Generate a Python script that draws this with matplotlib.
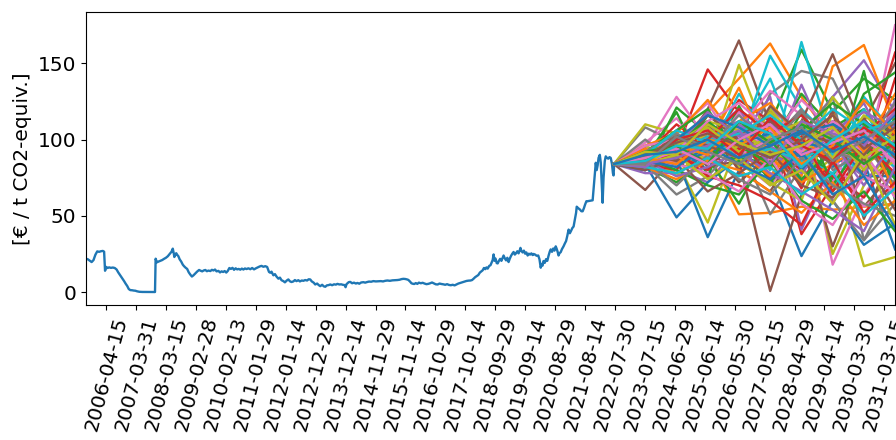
import matplotlib.pyplot as plt
import numpy as np
import pandas as pd

# Historischer CO2-Preis (Jahr als Dezimalzahl, Preis in EUR/t)
hist_years = [
    2005.64, 2005.70, 2005.76, 2005.82, 2005.88, 2005.94, 2006.00, 2006.06, 2006.12, 2006.18,
    2006.22, 2006.25, 2006.29, 2006.33, 2006.38, 2006.44, 2006.50, 2006.56, 2006.62, 2006.67,
    2006.72, 2006.77, 2006.82, 2006.86, 2006.91, 2006.96, 2007.01, 2007.06, 2007.12, 2007.17,
    2007.22, 2007.28, 2007.35, 2007.45, 2007.60, 2007.75, 2007.85, 2007.87, 2007.91, 2007.96,
    2008.02, 2008.08, 2008.14, 2008.20, 2008.26, 2008.32, 2008.38, 2008.42, 2008.45, 2008.47,
    2008.50, 2008.53, 2008.56, 2008.60, 2008.64, 2008.69, 2008.74, 2008.78, 2008.83, 2008.88,
    2008.93, 2008.98, 2009.03, 2009.08, 2009.14, 2009.20, 2009.26, 2009.31, 2009.36, 2009.41,
    2009.46, 2009.51, 2009.56, 2009.62, 2009.67, 2009.72, 2009.77, 2009.82, 2009.88, 2009.93,
    2009.98, 2010.03, 2010.08, 2010.13, 2010.18, 2010.23, 2010.28, 2010.33, 2010.38, 2010.43,
    2010.48, 2010.53, 2010.58, 2010.63, 2010.68, 2010.73, 2010.78, 2010.84, 2010.90, 2010.96,
    2011.02, 2011.08, 2011.14, 2011.20, 2011.26, 2011.32, 2011.38, 2011.44, 2011.50, 2011.54,
    2011.58, 2011.64, 2011.69, 2011.74, 2011.80, 2011.85, 2011.90, 2011.96, 2012.01, 2012.07,
    2012.12, 2012.17, 2012.22, 2012.28, 2012.33, 2012.38, 2012.44, 2012.49, 2012.55, 2012.60,
    2012.66, 2012.72, 2012.77, 2012.82, 2012.87, 2012.93, 2012.98, 2013.04, 2013.09, 2013.14,
    2013.20, 2013.25, 2013.30, 2013.35, 2013.41, 2013.46, 2013.52, 2013.58, 2013.64, 2013.69,
    2013.75, 2013.81, 2013.86, 2013.92, 2013.95, 2013.98, 2014.05, 2014.10, 2014.16, 2014.22,
    2014.28, 2014.33, 2014.39, 2014.45, 2014.52, 2014.58, 2014.64, 2014.70, 2014.77, 2014.84,
    2014.92, 2015.00, 2015.08, 2015.15, 2015.22, 2015.29, 2015.37, 2015.45, 2015.53, 2015.61,
    2015.68, 2015.74, 2015.80, 2015.86, 2015.92, 2015.96, 2016.02, 2016.06, 2016.10, 2016.15,
    2016.20, 2016.25, 2016.30, 2016.36, 2016.42, 2016.48, 2016.54, 2016.60, 2016.66, 2016.72,
    2016.78, 2016.84, 2016.90, 2016.96, 2017.02, 2017.08, 2017.14, 2017.20, 2017.26, 2017.32,
    2017.38, 2017.44, 2017.50, 2017.56, 2017.62, 2017.69, 2017.75, 2017.82, 2017.88, 2017.95,
    2018.00, 2018.05, 2018.10, 2018.15, 2018.20, 2018.25, 2018.30, 2018.34, 2018.38, 2018.42,
    2018.46, 2018.50, 2018.55, 2018.59, 2018.63, 2018.66, 2018.69, 2018.72, 2018.75, 2018.79,
    2018.82, 2018.86, 2018.90, 2018.94, 2018.98, 2019.01, 2019.05, 2019.09, 2019.13, 2019.17,
    2019.21, 2019.25, 2019.29, 2019.33, 2019.37, 2019.41, 2019.45, 2019.49, 2019.53, 2019.55,
    2019.58, 2019.62, 2019.66, 2019.70, 2019.74, 2019.78, 2019.82, 2019.86, 2019.90, 2019.94,
    2019.97, 2020.02, 2020.07, 2020.12, 2020.16, 2020.20, 2020.23, 2020.26, 2020.29, 2020.33,
    2020.37, 2020.41, 2020.45, 2020.49, 2020.52, 2020.56, 2020.60, 2020.64, 2020.68, 2020.71,
    2020.74, 2020.77, 2020.80, 2020.84, 2020.88, 2020.93, 2020.97, 2021.01, 2021.05, 2021.09,
    2021.13, 2021.17, 2021.21, 2021.25, 2021.29, 2021.33, 2021.35, 2021.40, 2021.45, 2021.50,
    2021.54, 2021.58, 2021.62, 2021.66, 2021.70, 2021.76, 2021.82, 2021.86, 2021.90, 2021.94,
    2021.96, 2021.99, 2022.02, 2022.05, 2022.09, 2022.12, 2022.15, 2022.18, 2022.21, 2022.25,
    2022.28, 2022.32, 2022.36, 2022.40, 2022.44, 2022.48, 2022.51, 2022.53, 2022.55,
]
hist_prices = [
    21.9, 21.5, 20.6, 19.7, 21.0, 24.5, 26.7, 26.4, 26.8, 27.0,
    26.5, 14.0, 16.5, 15.8, 16.2, 15.9, 16.1, 15.8, 14.8, 13.0,
    11.5, 10.0, 8.5, 7.2, 5.5, 4.0, 2.0, 1.3, 1.2, 1.0,
    0.9, 0.5, 0.2, 0.1, 0.08, 0.05, 0.05, 21.9, 19.5, 20.0,
    20.5, 21.0, 21.8, 22.5, 23.5, 25.0, 26.5, 28.5, 25.5, 23.0,
    24.5, 25.5, 24.5, 23.5, 21.5, 20.0, 18.0, 17.0, 16.0, 15.2,
    13.0, 11.5, 10.2, 11.0, 12.3, 13.5, 14.5, 14.0, 13.6, 14.2,
    14.5, 13.7, 14.1, 13.8, 14.6, 14.2, 14.8, 13.6, 13.9, 12.9,
    13.6, 13.2, 13.8, 12.8, 13.9, 15.8, 15.2, 15.9, 14.6, 15.6,
    14.9, 15.2, 14.7, 15.4, 14.8, 15.5, 15.1, 15.6, 15.0, 15.8,
    14.9, 15.6, 16.2, 16.8, 17.2, 16.6, 17.0, 16.5, 13.2, 12.7,
    13.4, 11.0, 11.8, 10.2, 8.8, 9.5, 7.8, 7.2, 6.4, 7.6,
    8.3, 7.1, 6.6, 7.0, 7.9, 7.2, 7.8, 7.0, 7.6, 7.4,
    7.9, 7.6, 8.4, 8.3, 7.0, 6.2, 5.0, 5.6, 4.6, 3.9,
    4.8, 3.8, 3.5, 4.4, 4.6, 5.0, 4.5, 5.1, 4.9, 5.4,
    5.0, 5.1, 4.8, 4.6, 3.2, 5.2, 6.5, 6.7, 5.8, 6.2,
    5.6, 6.0, 5.5, 6.3, 6.5, 6.2, 6.6, 6.9, 6.8, 7.2,
    7.0, 7.1, 7.2, 7.0, 7.4, 7.6, 7.4, 7.7, 7.8, 7.9,
    8.1, 8.5, 8.7, 8.6, 8.3, 8.0, 6.8, 5.8, 5.5, 5.3,
    5.9, 5.4, 6.2, 5.8, 6.1, 5.6, 5.2, 5.4, 5.8, 6.3,
    5.7, 5.1, 5.0, 5.6, 5.3, 5.1, 4.8, 5.2, 4.7, 4.5,
    4.8, 4.4, 5.0, 5.6, 6.0, 6.5, 6.8, 7.3, 7.5, 7.6,
    7.9, 8.8, 9.8, 10.5, 11.2, 12.8, 13.6, 14.3, 15.8, 15.0,
    16.2, 15.4, 17.2, 17.6, 19.5, 21.0, 24.7, 20.5, 22.0, 19.0,
    18.8, 20.5, 21.8, 20.5, 22.6, 24.0, 22.1, 20.8, 22.5, 19.7,
    22.0, 23.8, 25.2, 26.3, 24.6, 25.5, 26.8, 25.4, 27.5, 29.0,
    27.0, 26.0, 27.2, 25.2, 26.0, 24.0, 25.2, 24.6, 25.4, 24.3,
    25.0, 24.6, 23.8, 24.0, 21.5, 16.0, 18.5, 17.4, 20.4, 19.2,
    21.6, 20.5, 23.8, 26.6, 28.0, 26.4, 28.6, 27.2, 30.0, 28.4,
    26.5, 24.0, 25.5, 26.2, 28.2, 30.0, 31.8, 33.5, 37.0, 41.0,
    38.6, 40.2, 42.0, 43.0, 47.5, 52.0, 56.0, 55.0, 54.2, 53.0,
    53.0, 55.0, 57.5, 59.6, 59.6, 59.8, 60.0, 60.2, 70.0, 80.0,
    84.8, 80.0, 83.0, 88.0, 90.0, 85.0, 72.0, 58.6, 75.0, 86.0,
    89.0, 88.0, 87.5, 88.5, 88.0, 84.0, 78.0, 76.5, 84.0,
]

# Szenarien: jaehrliche Stuetzstellen ab Juli 2022
scenario_dates = [
    "2022-07-19", "2023-07-19", "2024-07-19", "2025-07-19", "2026-07-19",
    "2027-07-19", "2028-07-19", "2029-07-19", "2030-07-19", "2031-07-19",
]
scenario_start = 84.0
scenario_paths = [
    [92, 97, 118, 140, 163, 128, 100, 84, 95],
    [80, 121, 104, 92, 110, 159, 118, 140, 126],
    [88, 93, 146, 118, 95, 80, 66, 90, 157],
    [86, 80, 72, 96, 120, 104, 128, 152, 118],
    [67, 90, 120, 165, 110, 92, 72, 56, 80],
    [94, 128, 100, 86, 70, 96, 60, 78, 175],
    [108, 98, 110, 84, 130, 145, 140, 98, 70],
    [110, 104, 86, 149, 96, 72, 88, 17, 23],
    [90, 84, 110, 96, 155, 120, 100, 128, 104],
    [84, 49, 72, 88, 76, 23.6, 60, 31, 45],
    [86, 78, 92, 51, 52, 56, 54, 56, 58],
    [82, 72, 88, 58, 96, 130, 108, 120, 88],
    [90, 110, 95, 126, 112, 38, 70, 100, 84],
    [78, 78, 88, 100, 128, 41, 86, 110, 96],
    [88, 104, 82, 86, 0.7, 64, 96, 112, 150],
    [98, 114, 90, 110, 96, 120, 18, 64, 92],
    [84, 64, 76, 98, 51, 82, 60, 34, 58],
    [96, 86, 45.6, 100, 80, 110, 25, 70, 96],
    [86, 92, 100, 118, 80, 164, 96, 76, 120],
    [82, 88, 36, 80, 110, 72, 94, 86, 28],
    [90, 100, 84, 108, 90, 76, 148, 162, 110],
    [88, 118, 76, 122, 88, 100, 74, 145, 60],
    [80, 96, 108, 80, 102, 68, 120, 74, 140],
    [84, 90, 104, 112, 84, 136, 90, 76, 126],
    [94, 82, 96, 72, 90, 112, 156, 104, 66],
    [88, 106, 124, 92, 104, 86, 72, 112, 80],
    [100, 84, 92, 110, 76, 102, 128, 34, 74],
    [92, 76, 98, 82, 120, 96, 110, 88, 64],
    [80, 100, 86, 104, 140, 88, 78, 96, 82],
    [86, 94, 80, 112, 96, 108, 82, 100, 76],
    [96, 104, 126, 98, 82, 92, 110, 86, 100],
    [84, 86, 116, 104, 72, 94, 86, 130, 144],
    [92, 98, 86, 96, 118, 88, 76, 62, 92],
    [80, 88, 104, 120, 92, 78, 100, 94, 112],
    [86, 94, 110, 80, 66, 98, 30, 82, 104],
    [90, 82, 94, 108, 132, 116, 90, 56, 70],
    [86, 96, 100, 86, 104, 84, 96, 108, 88],
    [88, 92, 104, 84, 72, 60, 118, 74, 86],
    [84, 98, 90, 130, 100, 92, 66, 110, 94],
    [92, 86, 98, 92, 114, 80, 102, 76, 76],
    [84, 86, 96, 134, 88, 72, 84, 96, 130],
    [92, 106, 120, 90, 82, 118, 70, 100, 74],
    [86, 90, 80, 104, 74, 96, 112, 84, 106],
    [90, 96, 88, 76, 108, 90, 102, 124, 84],
    [84, 94, 116, 100, 94, 86, 118, 48, 96],
    [96, 100, 88, 118, 84, 108, 96, 82, 122],
    [82, 90, 102, 94, 98, 120, 80, 92, 102],
    [86, 98, 112, 106, 92, 84, 128, 102, 90],
    [88, 84, 94, 104, 86, 110, 90, 120, 84],
    [80, 92, 84, 98, 104, 88, 112, 90, 110],
    [94, 88, 100, 92, 76, 100, 86, 108, 66],
    [86, 102, 94, 86, 100, 74, 94, 88, 114],
    [84, 80, 112, 94, 86, 102, 66, 98, 78],
    [88, 92, 98, 110, 96, 82, 98, 70, 100],
    [90, 86, 92, 104, 112, 96, 84, 114, 88],
    [86, 94, 106, 90, 100, 126, 106, 92, 62],
    [84, 88, 96, 100, 90, 104, 92, 86, 96],
    [90, 100, 86, 96, 118, 92, 104, 80, 108],
    [86, 90, 102, 88, 94, 86, 100, 104, 90],
    [88, 84, 92, 100, 88, 98, 94, 112, 100],
    [82, 74, 86, 80, 66, 52, 72, 44, 60],
    [88, 80, 70, 64, 86, 60, 48, 66, 40],
    [84, 92, 76, 70, 60, 44, 86, 52, 72],
    [86, 76, 82, 92, 78, 66, 54, 40, 82],
    [80, 88, 66, 78, 92, 70, 62, 88, 54],
    [90, 84, 78, 66, 88, 58, 44, 76, 66],
    [86, 70, 90, 74, 64, 88, 70, 58, 50],
    [84, 90, 74, 88, 70, 80, 58, 92, 44],
    [82, 78, 88, 76, 82, 64, 78, 50, 68],
    [86, 82, 96, 84, 74, 92, 64, 76, 42],
    [88, 96, 90, 112, 124, 100, 116, 92, 118],
    [84, 100, 112, 96, 84, 106, 124, 110, 96],
    [90, 94, 100, 120, 104, 116, 94, 104, 120],
    [82, 96, 118, 102, 110, 94, 106, 118, 108],
    [88, 102, 96, 88, 122, 104, 98, 90, 112],
    [86, 92, 112, 124, 106, 92, 112, 100, 86],
    [92, 104, 94, 116, 96, 118, 102, 96, 124],
    [84, 96, 108, 92, 102, 112, 88, 116, 100],
    [90, 106, 98, 104, 116, 100, 120, 106, 112],
    [86, 100, 116, 108, 96, 104, 110, 98, 116],
    [88, 84, 100, 96, 108, 84, 96, 126, 104],
    [92, 96, 84, 112, 98, 110, 100, 84, 98],
    [86, 100, 106, 90, 114, 96, 86, 108, 94],
    [84, 88, 96, 106, 84, 112, 104, 96, 118],
    [90, 98, 104, 96, 88, 100, 116, 94, 108],
    [88, 94, 84, 100, 110, 90, 98, 106, 84],
    [84, 102, 92, 84, 100, 108, 86, 100, 112],
    [92, 90, 110, 98, 90, 96, 108, 88, 102],
    [86, 96, 94, 112, 104, 82, 100, 112, 96],
    [90, 92, 100, 88, 96, 106, 92, 102, 90],
]


def year_to_date(y):
    # Dezimaljahr -> Datum
    start = pd.Timestamp(year=int(y), month=1, day=1)
    return start + pd.Timedelta(days=(y - int(y)) * 365.25)


hist_dates = pd.DatetimeIndex([year_to_date(y) for y in hist_years])
scen_dates = pd.to_datetime(scenario_dates)

fig = plt.figure(figsize=(8.96, 4.4), dpi=100)
ax = fig.add_axes([0.096, 0.306, 0.903, 0.667])

ax.plot(hist_dates, hist_prices, linewidth=1.7)
for path in scenario_paths:
    ax.plot(scen_dates, [scenario_start] + path, linewidth=1.7)

# Achsenbeschriftung
tick_dates = pd.date_range("2006-04-15", periods=27, freq="350D")
ax.set_xticks(tick_dates)
ax.set_xticklabels([d.strftime("%Y-%m-%d") for d in tick_dates],
                   rotation=75, fontsize=14.5)
ax.set_xlim(hist_dates[0], scen_dates[-1])
ax.set_yticks([0, 50, 100, 150])
ax.tick_params(axis="y", labelsize=14.5)
ax.set_ylabel("[€ / t CO2-equiv.]", fontsize=14.5)

plt.savefig("out.png", dpi=100)
